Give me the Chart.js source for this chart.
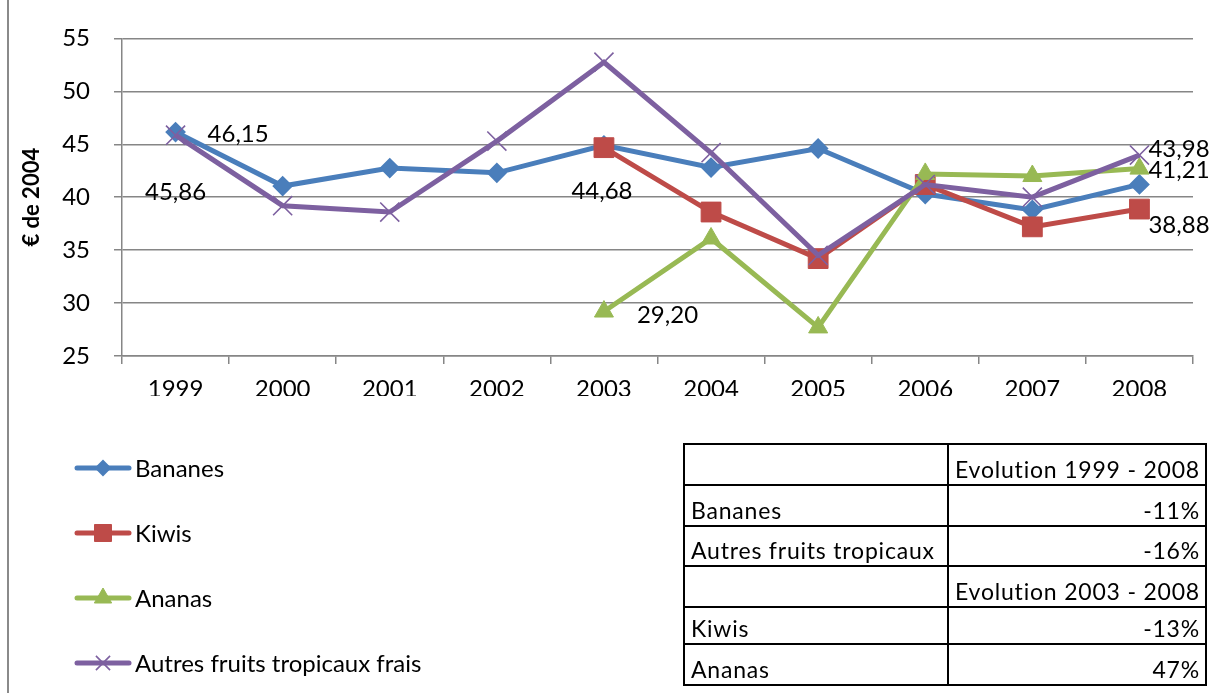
<!DOCTYPE html>
<html>
<head>
<meta charset="utf-8">
<script src="https://cdn.jsdelivr.net/npm/chart.js@4/dist/chart.umd.min.js"></script>
<style>
  html, body { margin: 0; padding: 0; background: #fff; }
  #wrap { position: relative; width: 1218px; height: 693px; overflow: hidden; background: #fff; }
  #c { position: absolute; left: 0; top: 0; }
  #frame { position: absolute; left: 7px; top: 0; width: 2px; height: 693px; background: #8a8a8a; }
  #tbl { position: absolute; left: 683px; top: 443px; border-collapse: collapse;
         font-family: Lato, "Open Sans", sans-serif; font-size: 23px; letter-spacing: 0.8px; color: #000; }
  #tbl td { border: 2px solid #000; padding: 0 5px 3px 6px; vertical-align: bottom; line-height: 1; white-space: nowrap; }
  #tbl td.l { width: 251px; text-align: left; }
  #tbl td.r { width: 245px; text-align: right; }
  #tbl td.c { text-align: center; }
</style>
</head>
<body>
<div id="wrap">
  <canvas id="c" width="1218" height="693"></canvas>
  <div id="frame"></div>
  <table id="tbl"></table>
</div>
<script>
// ---- data ----
const years = ["1999","2000","2001","2002","2003","2004","2005","2006","2007","2008"];
const seriesNames = ["Bananes", "Kiwis", "Ananas", "Autres fruits tropicaux frais"];
const bananes = [46.15, 41.05, 42.75, 42.3, 44.9, 42.8, 44.6, 40.3, 38.8, 41.21];
const kiwis   = [null, null, null, null, 44.68, 38.6, 34.2, 41.2, 37.2, 38.88];
const ananas  = [null, null, null, null, 29.20, 36.1, 27.7, 42.2, 42.0, 42.7];
const autres  = [45.86, 39.2, 38.6, 45.3, 52.75, 44.2, 34.5, 41.2, 40.0, 43.98];
const yTicks = [25, 30, 35, 40, 45, 50, 55];
const yTitle = "€ de 2004";
const tableRows = [
  ["", "Evolution 1999 - 2008", "h1"],
  ["Bananes", "-11%", ""],
  ["Autres fruits tropicaux", "-16%", ""],
  ["", "Evolution 2003 - 2008", "h2"],
  ["Kiwis", "-13%", ""],
  ["Ananas", "47%", ""]
];
// labelled points: [datasetIndex, pointIndex]
const labelledPoints = [[0,0],[3,0],[1,4],[2,4],[3,9],[0,9],[1,9]];

// ---- styles ----
const colors = ["#4A7EBB", "#BE4B48", "#98B954", "#7D60A0"];
const markers = ["rectRot", "rect", "triangle", "crossRot"];
const markerRadius = [9, 14, 11, 13.5];
const markerBorder = [2, 1, 1, 1.6];
const legendRadius = [7, 12, 10, 10];
const labelOffsets = [ // dx, dy, align
  [32, 2, "left"], [0, 57, "center"], [-2, 44, "center"], [33, 4, "left"],
  [9, -6, "left"], [9, -14, "left"], [9, 16, "left"]
];
const rowHeights = [41, 40.5, 40.5, 40.5, 37.5, 41];
const FONT = "Lato, 'Open Sans', sans-serif";

// table
const tbl = document.getElementById('tbl');
tableRows.forEach((r, i) => {
  const tr = document.createElement('tr');
  tr.style.height = rowHeights[i] + 'px';
  const a = document.createElement('td'); a.className = 'l'; a.textContent = r[0];
  const b = document.createElement('td'); b.className = 'r' + (r[2] === 'h2' ? ' c' : ''); b.textContent = r[1];
  tr.appendChild(a); tr.appendChild(b); tbl.appendChild(tr);
});

function drawMarker(ctx, style, x, y, r, color, bw) {
  ctx.save();
  ctx.fillStyle = color; ctx.strokeStyle = color; ctx.lineWidth = bw;
  ctx.beginPath();
  if (style === 'rectRot') {
    ctx.moveTo(x - r, y); ctx.lineTo(x, y - r); ctx.lineTo(x + r, y); ctx.lineTo(x, y + r); ctx.closePath();
    ctx.fill(); ctx.stroke();
  } else if (style === 'rect') {
    const s = Math.SQRT1_2 * r;
    ctx.rect(x - s, y - s, 2 * s, 2 * s); ctx.fill(); ctx.stroke();
  } else if (style === 'triangle') {
    ctx.moveTo(x, y - r);
    ctx.lineTo(x + r * Math.cos(Math.PI / 6), y + r / 2);
    ctx.lineTo(x - r * Math.cos(Math.PI / 6), y + r / 2);
    ctx.closePath(); ctx.fill(); ctx.stroke();
  } else {
    const o = Math.SQRT1_2 * r;
    ctx.moveTo(x - o, y - o); ctx.lineTo(x + o, y + o);
    ctx.moveTo(x + o, y - o); ctx.lineTo(x - o, y + o); ctx.stroke();
  }
  ctx.restore();
}

const extrasPlugin = {
  id: 'extras',
  afterDatasetsDraw(chart) {
    const ctx = chart.ctx;
    ctx.save();
    ctx.font = "24px " + FONT;
    ctx.fillStyle = "#000";
    ctx.textBaseline = "middle";
    labelledPoints.forEach((lp, k) => {
      const [di, pi] = lp;
      const el = chart.getDatasetMeta(di).data[pi];
      const v = chart.data.datasets[di].data[pi];
      const [dx, dy, al] = labelOffsets[k];
      ctx.textAlign = al;
      ctx.fillText(v.toFixed(2).replace('.', ','), el.x + dx, el.y + dy);
    });
    // legend
    const ly0 = 468, lstep = 65;
    chart.data.datasets.forEach((ds, i) => {
      const y = ly0 + i * lstep;
      ctx.save();
      ctx.strokeStyle = ds.borderColor; ctx.lineWidth = 5; ctx.lineCap = 'round';
      ctx.beginPath(); ctx.moveTo(77, y); ctx.lineTo(129, y); ctx.stroke();
      ctx.restore();
      drawMarker(ctx, markers[i], 103, y, legendRadius[i], colors[i], markerBorder[i]);
      ctx.fillStyle = "#000"; ctx.textAlign = "left"; ctx.font = "24px " + FONT;
      ctx.fillText(ds.label, 135, y + 1);
    });
    ctx.restore();
  }
};

function build() {
  const allSeries = [bananes, kiwis, ananas, autres];
  const datasets = allSeries.map((d, i) => ({
    label: seriesNames[i],
    data: d,
    borderColor: colors[i],
    backgroundColor: colors[i],
    borderWidth: 5,
    pointStyle: markers[i],
    pointRadius: markerRadius[i],
    pointBorderWidth: markerBorder[i],
    pointBackgroundColor: colors[i],
    pointBorderColor: colors[i],
    pointHoverRadius: markerRadius[i],
    spanGaps: false,
    tension: 0,
    order: 4 - i
  }));
  new Chart(document.getElementById('c'), {
    type: 'line',
    data: { labels: years, datasets },
    plugins: [extrasPlugin],
    options: {
      responsive: false,
      animation: false,
      events: [],
      layout: { padding: { left: 0, top: 36, right: 25, bottom: 297 } },
      plugins: { legend: { display: false }, tooltip: { enabled: false } },
      scales: {
        x: {
          offset: true,
          grid: { drawOnChartArea: false, tickLength: 8, color: '#868686', lineWidth: 1.5, offset: true },
          border: { color: '#868686', width: 1.5 },
          ticks: { color: '#000', font: { family: FONT, size: 24 }, padding: 11, maxRotation: 0 },
          afterFit(s) { s.height = 40; }
        },
        y: {
          min: 25, max: 55,
          afterBuildTicks(s) { s.ticks = yTicks.map(v => ({ value: v })); },
          grid: { color: '#868686', lineWidth: 1.5, tickLength: 8 },
          border: { color: '#868686', width: 1.5 },
          ticks: { color: '#000', font: { family: FONT, size: 24 }, padding: 24 },
          title: { display: true, text: yTitle, color: '#000', font: { family: FONT, size: 22, weight: 'bold' }, padding: { top: 19, bottom: 0 } },
          afterFit(s) { s.width = 122; }
        }
      }
    }
  });
}
Promise.all([
  document.fonts.load("24px Lato"), document.fonts.load("bold 22px Lato")
]).then(build, build);
</script>
</body>
</html>
